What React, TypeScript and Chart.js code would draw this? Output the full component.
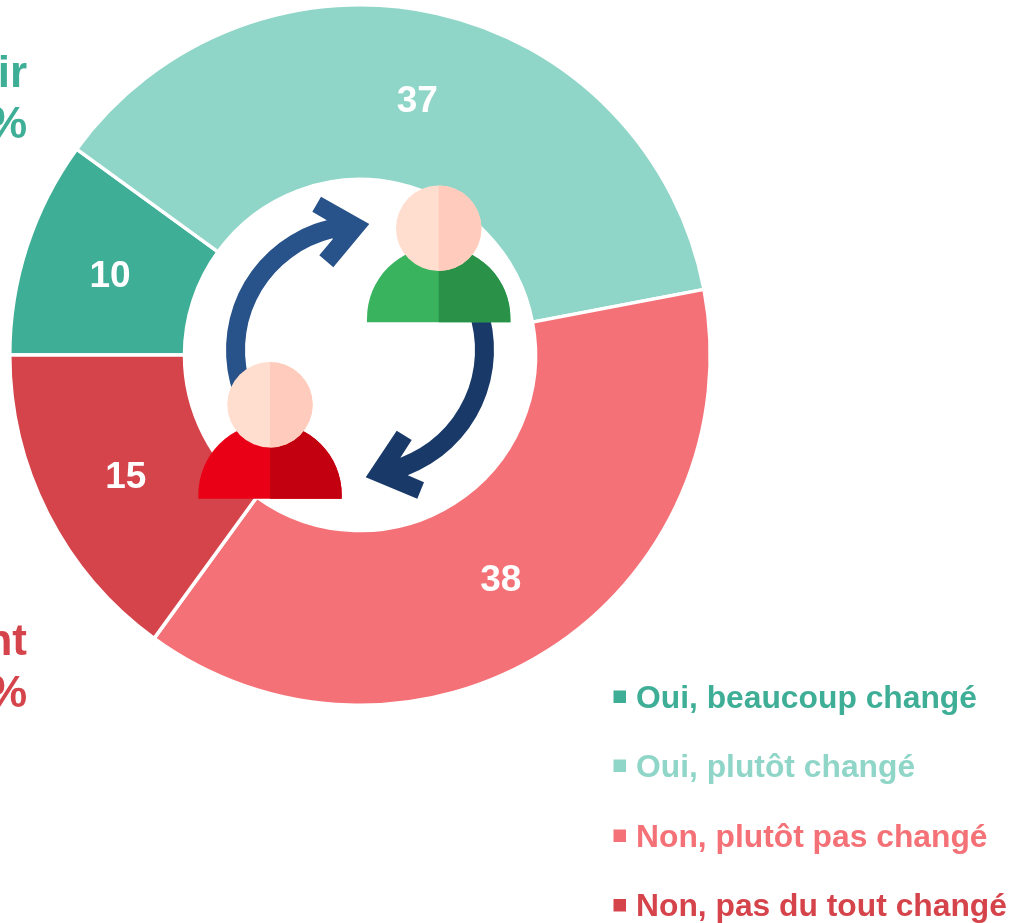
import React, { useEffect, useRef } from "react";
import { Chart, registerables } from "chart.js";

Chart.register(...registerables);

const categories = [
  "Oui, beaucoup changé",
  "Oui, plutôt changé",
  "Non, plutôt pas changé",
  "Non, pas du tout changé",
];
const values = [10, 37, 38, 15];
const colors = ["#3FAE96", "#90D6C8", "#F47277", "#D6444B"];
const clippedNotes = [
  { text: "ir", color: "#3FAE96", x: 27, y: 87 },
  { text: "%", color: "#3FAE96", x: 27, y: 138 },
  { text: "nt", color: "#D6444B", x: 27, y: 655 },
  { text: "%", color: "#D6444B", x: 27, y: 707 },
];
const legendBaselines = [707.5, 776.5, 846.5, 916];

const FONT = '"Liberation Sans", Arial, sans-serif';

function person(ctx: CanvasRenderingContext2D, cx: number, base: number, light: string, dark: string) {
  const headY = base - 94;
  const rightHalf = (paint: () => void) => {
    ctx.save();
    ctx.beginPath();
    ctx.rect(cx, base - 170, 80, 175);
    ctx.clip();
    paint();
    ctx.restore();
  };
  const body = (c: string) => () => {
    ctx.fillStyle = c;
    ctx.beginPath();
    ctx.moveTo(cx - 71.7, base);
    ctx.lineTo(cx - 71.7, base - 4);
    ctx.arc(cx, base - 4, 71.7, Math.PI, 0);
    ctx.lineTo(cx + 71.7, base);
    ctx.closePath();
    ctx.fill();
  };
  const head = (c: string) => () => {
    ctx.fillStyle = c;
    ctx.beginPath();
    ctx.arc(cx, headY, 42.7, 0, Math.PI * 2);
    ctx.fill();
  };
  body(light)();
  rightHalf(body(dark));
  head("#FFDDCF")();
  rightHalf(head("#FFCBBC"));
}

const overlay = {
  id: "overlay",
  afterDatasetsDraw(chart: Chart) {
    const ctx = chart.ctx;
    ctx.save();
    // value labels
    ctx.font = `bold 37px ${FONT}`;
    ctx.textAlign = "center";
    ctx.textBaseline = "middle";
    ctx.fillStyle = "#FFFFFF";
    chart.getDatasetMeta(0).data.forEach((arc: any, i: number) => {
      const p = arc.tooltipPosition();
      ctx.fillText(String(values[i]), p.x, p.y + 3.5);
    });

    // cut-off notes at the left edge
    ctx.font = `bold 44px ${FONT}`;
    ctx.textAlign = "right";
    ctx.textBaseline = "alphabetic";
    clippedNotes.forEach((n) => {
      ctx.fillStyle = n.color;
      ctx.fillText(n.text, n.x, n.y);
    });

    // legend
    ctx.textAlign = "left";
    ctx.font = `bold 31.8px ${FONT}`;
    categories.forEach((c, i) => {
      ctx.fillStyle = colors[i];
      ctx.fillRect(613.5, legendBaselines[i] - 17, 12.5, 12.5);
      ctx.fillText(c, 636, legendBaselines[i]);
    });

    // arrows
    const cx = 360;
    const cy = 350;
    const rad = (d: number) => (d * Math.PI) / 180;
    ctx.fillStyle = "#28528A";
    ctx.beginPath();
    ctx.moveTo(312.3, 211.7);
    ctx.lineTo(321, 196.7);
    ctx.lineTo(369.3, 224);
    ctx.lineTo(333.3, 267.3);
    ctx.lineTo(319.3, 255.3);
    ctx.lineTo(332.7, 239.3);
    ctx.arc(cx, cy, 115, Math.atan2(239.3 - cy, 332.7 - cx), rad(160), true);
    ctx.arc(cx, cy, 134, rad(160), Math.atan2(221.7 - cy, 327.3 - cx), false);
    ctx.closePath();
    ctx.fill();

    ctx.fillStyle = "#193A69";
    ctx.beginPath();
    ctx.moveTo(396.7, 430.7);
    ctx.lineTo(411.7, 440);
    ctx.lineTo(400, 458.3);
    ctx.arc(cx, cy, 115, Math.atan2(458.3 - cy, 400 - cx), rad(-20), true);
    ctx.arc(cx, cy, 134, rad(-20), Math.atan2(475 - cy, 407.7 - cx), false);
    ctx.lineTo(424, 482.3);
    ctx.lineTo(417.3, 498.7);
    ctx.lineTo(365.7, 477.3);
    ctx.closePath();
    ctx.fill();

    person(ctx, 438.7, 322.3, "#39B35E", "#2A9148");
    person(ctx, 270, 498.7, "#E90016", "#C3000F");
    ctx.restore();
  },
};

export default function App() {
  const ref = useRef<HTMLCanvasElement>(null);
  useEffect(() => {
    const chart = new Chart(ref.current!, {
      type: "doughnut",
      data: {
        labels: categories,
        datasets: [
          {
            data: values,
            backgroundColor: colors,
            borderColor: "#FFFFFF",
            borderWidth: 3.5,
          },
        ],
      },
      options: {
        responsive: false,
        animation: false,
        rotation: 270,
        cutout: 175.5,
        layout: { padding: { left: 8, right: 300, top: 3, bottom: 216 } },
        plugins: { legend: { display: false }, tooltip: { enabled: false } },
      },
      plugins: [overlay],
    });
    return () => chart.destroy();
  }, []);
  return (
    <div style={{ position: "absolute", left: 0, top: 0, width: 1012, height: 923, overflow: "hidden", background: "#fff" }}>
      <canvas ref={ref} width={1012} height={923} style={{ display: "block" }} />
    </div>
  );
}
